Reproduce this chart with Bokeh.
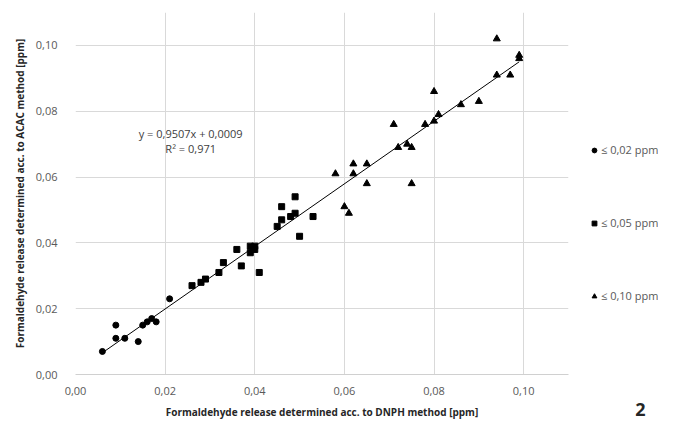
from bokeh.plotting import figure
from bokeh.layouts import row
from bokeh.models import (Legend, LegendItem, Label, FixedTicker, CustomJSTickFormatter,
                          Range1d)
from bokeh.embed import file_html
from bokeh.resources import INLINE

# data: (DNPH, ACAC) in ppm
c_x = [0.006, 0.009, 0.009, 0.011, 0.014, 0.015, 0.016, 0.017, 0.018, 0.021]
c_y = [0.007, 0.015, 0.011, 0.011, 0.010, 0.015, 0.016, 0.017, 0.016, 0.023]

s_x = [0.026, 0.028, 0.029, 0.032, 0.033, 0.036, 0.037, 0.039, 0.040, 0.039, 0.040,
       0.041, 0.045, 0.046, 0.046, 0.048, 0.049, 0.049, 0.050, 0.053]
s_y = [0.027, 0.028, 0.029, 0.031, 0.034, 0.038, 0.033, 0.039, 0.039, 0.037, 0.038,
       0.031, 0.045, 0.047, 0.051, 0.048, 0.049, 0.054, 0.042, 0.048]

t_x = [0.058, 0.060, 0.061, 0.062, 0.062, 0.065, 0.065, 0.071, 0.072, 0.074, 0.075,
       0.075, 0.078, 0.080, 0.080, 0.081, 0.086, 0.090, 0.094, 0.094, 0.097, 0.099, 0.099]
t_y = [0.061, 0.051, 0.049, 0.064, 0.061, 0.064, 0.058, 0.076, 0.069, 0.070, 0.069,
       0.058, 0.076, 0.077, 0.086, 0.079, 0.082, 0.083, 0.102, 0.091, 0.091, 0.097, 0.096]

slope = 0.9507
intercept = 0.0009
ticks = [0.0, 0.02, 0.04, 0.06, 0.08, 0.10]
labels = ["≤ 0,02 ppm", "≤ 0,05 ppm", "≤ 0,10 ppm"]

FONT = "Open Sans"
GRAY = "#595959"

p = figure(width=570, height=421, output_backend="svg", toolbar_location=None,
           x_range=Range1d(0, 0.11), y_range=Range1d(0, 0.11),
           min_border_left=75, min_border_right=2, min_border_top=12, min_border_bottom=44)
p.outline_line_color = None

fmt = CustomJSTickFormatter(code="return tick.toFixed(2).replace('.', ',');")
for ax in (p.xaxis[0], p.yaxis[0]):
    ax.ticker = FixedTicker(ticks=ticks)
    ax.formatter = fmt
    ax.major_tick_line_color = None
    ax.minor_tick_line_color = None
    ax.major_label_text_font = FONT
    ax.major_label_text_font_size = "11px"
    ax.major_label_text_color = GRAY
    ax.axis_label_text_font = FONT
    ax.axis_label_text_font_size = "10px"
    ax.axis_label_text_font_style = "bold"
    ax.axis_label_text_color = "#262626"

p.xaxis.axis_line_color = "#d0d0d0"
p.yaxis.axis_line_color = None
p.xaxis.major_label_standoff = 6
p.yaxis.major_label_standoff = 12
p.xaxis.axis_label = "Formaldehyde release determined acc. to DNPH method [ppm]"
p.yaxis.axis_label = "Formaldehyde release determined acc. to ACAC method [ppm]"
p.xaxis.axis_label_standoff = 7
p.yaxis.axis_label_standoff = 6

p.xgrid.ticker = FixedTicker(ticks=ticks)
p.ygrid.ticker = FixedTicker(ticks=ticks)
p.xgrid.grid_line_color = "#d9d9d9"
p.ygrid.grid_line_color = "#d9d9d9"

# trendline
allx = c_x + s_x + t_x
x0, x1 = min(allx), max(allx)
p.line([x0, x1], [slope * x0 + intercept, slope * x1 + intercept], line_color="black", line_width=1)

p.scatter(c_x, c_y, marker="circle", size=6, fill_color="black", line_color="black")
p.scatter(s_x, s_y, marker="square", size=6, fill_color="black", line_color="black")
p.scatter(t_x, t_y, marker="triangle", size=7, fill_color="black", line_color="black")

p.add_layout(Label(x=0.0257, y=0.0732, text="y = 0,9507x + 0,0009", text_align="center",
                   text_baseline="middle", text_font=FONT, text_font_size="11px", text_color="#404040"))
p.add_layout(Label(x=0.0257, y=0.0688, text="R² = 0,971", text_align="center",
                   text_baseline="middle", text_font=FONT, text_font_size="11px", text_color="#404040"))

# side panel with legend and panel number (its ranges keep the legend's source points out of view)
p2 = figure(width=88, height=421, output_backend="svg", toolbar_location=None,
            x_range=Range1d(1, 2), y_range=Range1d(1, 2),
            x_axis_type=None, y_axis_type=None,
            min_border_left=0, min_border_right=0, min_border_top=0, min_border_bottom=0)
p2.frame_align = False
p2.outline_line_color = None
p2.grid.visible = False
m1 = p2.scatter(c_x[:1], c_y[:1], marker="circle", fill_color="black", line_color="black")
m2 = p2.scatter(s_x[:1], s_y[:1], marker="square", fill_color="black", line_color="black")
m3 = p2.scatter(t_x[:1], t_y[:1], marker="triangle", fill_color="black", line_color="black")

legend = Legend(items=[LegendItem(label=labels[0], renderers=[m1]),
                       LegendItem(label=labels[1], renderers=[m2]),
                       LegendItem(label=labels[2], renderers=[m3])],
                location=(18, 118), orientation="vertical",
                glyph_width=12, glyph_height=12, label_height=12, spacing=58,
                label_text_font=FONT, label_text_font_size="11px", label_text_color=GRAY,
                label_standoff=1, padding=0, margin=0,
                border_line_color=None, background_fill_alpha=0)
p2.add_layout(legend, "center")

p2.add_layout(Label(x=70, y=6, x_units="screen", y_units="screen", text="2",
                    text_align="center", text_baseline="bottom",
                    text_font=FONT, text_font_size="18px", text_font_style="bold",
                    text_color="#262626"))

open("out.html", "w").write(file_html(row(p, p2), INLINE))
